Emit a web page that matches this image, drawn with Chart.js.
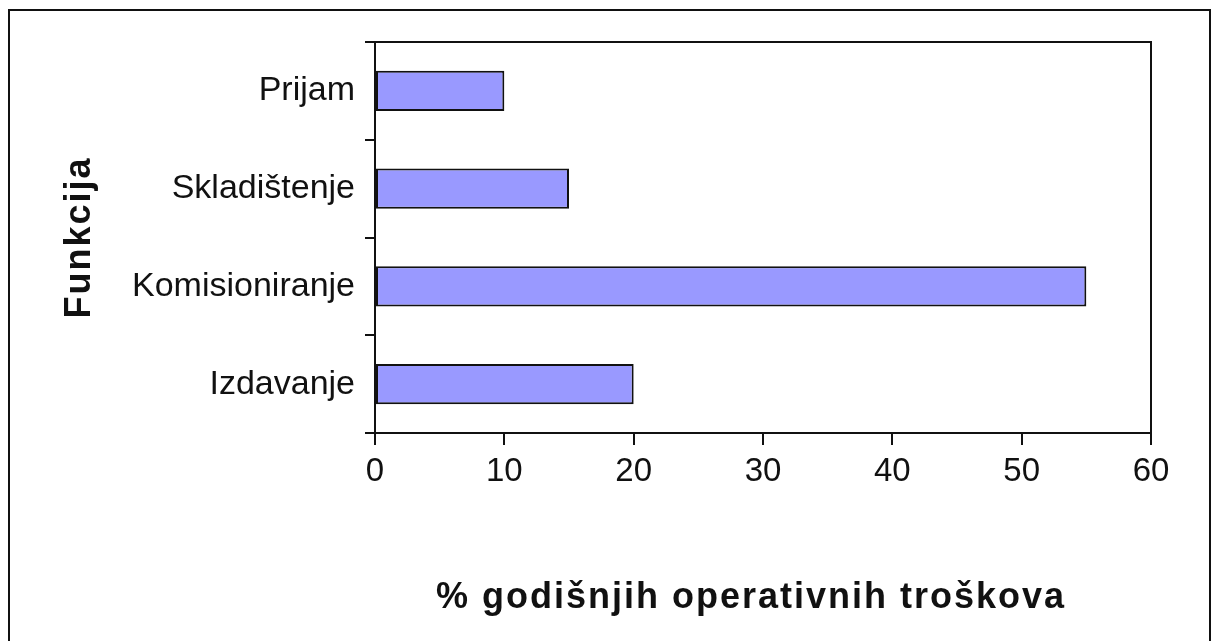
<!DOCTYPE html>
<html>
<head>
<meta charset="utf-8">
<script src="https://cdn.jsdelivr.net/npm/chart.js@4/dist/chart.umd.min.js"></script>
<style>
  html, body { margin: 0; padding: 0; background: #fff; }
  #wrap { position: relative; width: 1213px; height: 641px; overflow: hidden; }
  #grafico { position: absolute; left: 0; top: 0; }
  #okvir {
    position: absolute; left: 8px; top: 9px; width: 1199px; height: 700px;
    border: 2px solid #111; pointer-events: none;
  }
</style>
</head>
<body>
<div id="wrap">
  <canvas id="grafico" width="1213" height="641"></canvas>
  <div id="okvir"></div>
</div>
<script>
// podaci
const funkcije = ["Prijam", "Skladištenje", "Komisioniranje", "Izdavanje"];
const troskovi = [10, 15, 55, 20];
const xTicks = [0, 10, 20, 30, 40, 50, 60];
const naslovX = "% godišnjih operativnih troškova";
const naslovY = "Funkcija";

// razmak slova samo za naslove osi (x naslov malo ulijevo)
const origDrawTitle = Chart.Scale.prototype.drawTitle;
Chart.Scale.prototype.drawTitle = function () {
  this.ctx.save();
  this.ctx.letterSpacing = "2px";
  if (this.axis === "x") this.ctx.translate(-12, 0);
  origDrawTitle.apply(this, arguments);
  this.ctx.restore();
};

// okvir oko podrucja grafa (gore i desno)
const okvirPlot = {
  id: "okvirPlot",
  afterDraw(chart) {
    const a = chart.chartArea;
    const ctx = chart.ctx;
    ctx.save();
    ctx.strokeStyle = "#111";
    ctx.lineWidth = 2;
    ctx.beginPath();
    ctx.moveTo(a.left, a.top);
    ctx.lineTo(a.right, a.top);
    ctx.lineTo(a.right, a.bottom);
    ctx.stroke();
    ctx.restore();
  },
};

const fontFam = "'Liberation Sans', Arial, sans-serif";

let ctx = document.getElementById("grafico").getContext("2d");
let chart = new Chart(ctx, {
  type: "bar",
  data: {
    labels: funkcije,
    datasets: [
      {
        data: troskovi,
        backgroundColor: "#9999FF",
        borderColor: "#111",
        borderWidth: 2,
        borderSkipped: false,
        categoryPercentage: 1,
        barPercentage: 0.41,
      },
    ],
  },
  options: {
    indexAxis: "y",
    responsive: false,
    animation: false,
    layout: { padding: { top: 42, right: 62, bottom: 0, left: 0 } },
    plugins: { legend: { display: false }, tooltip: { enabled: false } },
    scales: {
      x: {
        min: 0,
        max: 60,
        afterFit: (s) => { s.height = 208; },
        afterBuildTicks: (s) => { s.ticks = xTicks.map((v) => ({ value: v })); },
        grid: { drawOnChartArea: false, drawTicks: true, tickLength: 12, color: "#111", lineWidth: 2 },
        border: { display: true, color: "#111", width: 2 },
        ticks: {
          color: "#111",
          padding: 7,
          font: { family: fontFam, size: 33 },
        },
        title: {
          display: true,
          text: naslovX,
          color: "#111",
          padding: { top: 0, bottom: 21 },
          font: { family: fontFam, size: 36, weight: "bold" },
        },
      },
      y: {
        afterFit: (s) => { s.width = 375; },
        grid: { offset: true, drawOnChartArea: false, drawTicks: true, tickLength: 10, color: "#111", lineWidth: 2 },
        border: { display: true, color: "#111", width: 2 },
        ticks: {
          color: "#111",
          padding: 10,
          font: { family: fontFam, size: 34 },
        },
        title: {
          display: true,
          text: naslovY,
          color: "#111",
          padding: { top: 58, bottom: 0 },
          font: { family: fontFam, size: 36, weight: "bold" },
        },
      },
    },
  },
  plugins: [okvirPlot],
});
</script>
</body>
</html>
